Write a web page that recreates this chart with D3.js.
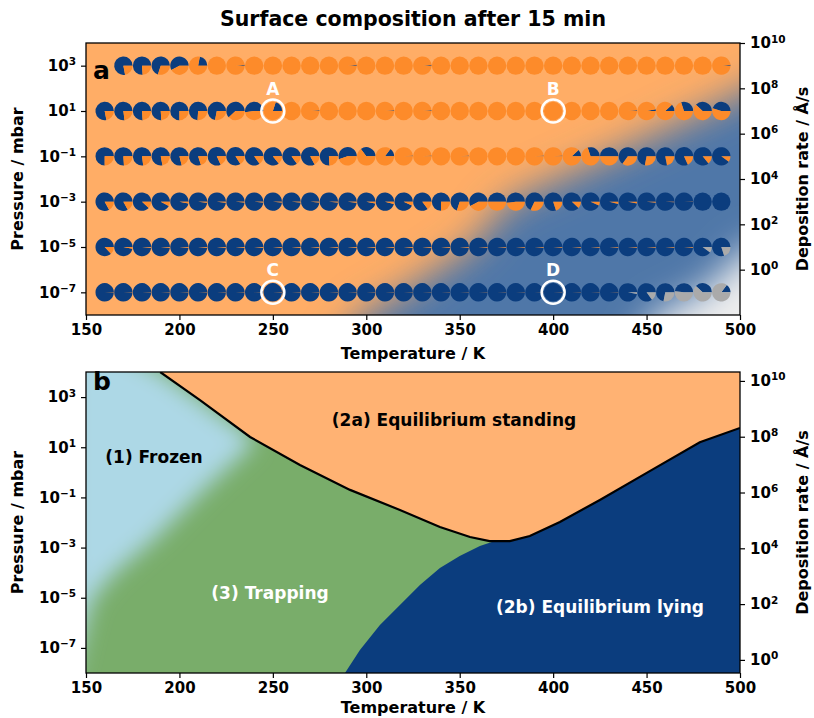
<!DOCTYPE html>
<html>
<head>
<meta charset="utf-8">
<script src="https://cdn.jsdelivr.net/npm/d3@7"></script>
<style>
  body { margin: 0; background: #fff; }
  svg text { font-family: "DejaVu Sans", sans-serif; font-weight: 700; }
</style>
</head>
<body>
<div id="chart"></div>
<script>
// ---- data ----
var temps = [160,170,180,190,200,210,220,230,240,250,260,270,280,290,300,310,320,330,340,350,360,370,380,390,400,410,420,430,440,450,460,470,480,490];
var pressureExps = [3, 1, -1, -3, -5, -7];

// fraction of lying (blue) molecules per row, null = no point
var blue3  = [null,.78,.76,.70,.58,.22,0,.015,0,0,0,0,0,.015,0,0,0,.015,0,0,0,0,0,0,0,0,0,0,0,0,0,0,0,.015];
var blue1  = [.78,.77,.76,.76,.75,.74,.72,.62,.52,.2,0,.015,0,0,0,.015,0,.015,0,0,0,0,0,0,0,0,0,0,.015,.03,.12,.3,.38,.45];
var blueM1 = [.75,.76,.77,.78,.79,.80,.82,.84,.85,.86,.85,.83,.76,.55,.35,.15,.015,.015,0,.015,0,0,0,.015,.015,.12,.3,.5,.65,.72,.78,.82,.86,.9];
var blueM3 = [.83,.83,.88,.92,.97,.98,.98,.985,.985,.985,.985,.985,.985,.98,.97,.96,.93,.85,.75,.7,.58,.5,.52,.68,.8,.88,.93,.96,.97,.98,.99,.995,1,1];
var blueM5 = [.87,.97,.985,.985,.985,.985,.985,.985,.985,.985,.985,.985,.985,.985,.985,.985,.985,.985,.985,.985,.985,.985,.985,.985,.985,.985,.985,.985,.985,.985,.985,.985,.9,.8];
var blueM7 = [.995,.995,.995,.995,.995,.995,.995,.995,.995,.995,.995,.995,.995,.995,.995,.995,.995,.995,.995,.995,.995,.995,.995,.995,.995,.995,.995,.995,.97,.85,.72,.48,.38,.15];
// fraction of empty/other (grey) per row
var greyM5 = [0,0,0,0,0,0,0,0,0,0,0,0,0,0,0,0,0,0,0,0,0,0,0,0,0,0,0,0,0,0,0,0,.1,.2];
var greyM7 = [0,0,0,0,0,0,0,0,0,0,0,0,0,0,0,0,0,0,0,0,0,0,0,0,0,0,0,0,.03,.15,.28,.52,.62,.85];
var noGrey = temps.map(function(){ return 0; });

var blueRows = [blue3, blue1, blueM1, blueM3, blueM5, blueM7];
var greyRows = [noGrey, noGrey, noGrey, noGrey, greyM5, greyM7];

// highlighted points
var markLabels = ["A", "B", "C", "D"];
var markTemps = [250, 400, 250, 400];
var markExps = [1, 1, -7, -7];

// blurred blue background region of panel a (T, log10 p)
var bgBlueT = [298, 320, 356, 376, 430, 494, 520];
var bgBlueP = [-8, -7, -5, -3, -1, 1.5, 2.6];
var bgWhiteT = [455, 480, 505];
var bgWhiteP = [-8, -7, -5];

// phase diagram boundaries, panel b
var standT = [189.7, 211, 237.8, 264.5, 291.3, 318, 339.4, 355.5, 366, 376.8, 387.5, 403.6, 425, 451.7, 478.5, 500];
var standP = [4.0, 2.88, 1.41, 0.29, -0.70, -1.5, -2.18, -2.58, -2.74, -2.74, -2.54, -1.98, -1.1, 0.05, 1.2, 1.77];
var lyingT = [288.6, 296.6, 307.3, 318, 328.7, 339.4, 350, 360.8, 368.8];
var lyingP = [-8, -7.08, -6.09, -5.29, -4.49, -3.81, -3.34, -2.94, -2.74];
var frozenT = [140, 189.7, 211, 240, 239, 213, 186, 164, 153, 148, 140];
var frozenP = [6, 4, 2.88, 1.3, 1.09, -0.7, -2.7, -4.09, -5.09, -6.5, -9];

var xTicks = [150, 200, 250, 300, 350, 400, 450, 500];
var pTicks = [3, 1, -1, -3, -5, -7];
var rTicks = [0, 2, 4, 6, 8, 10];

var cBlue = "#0b3d7e", cOrange = "#fd8b2a", cGrey = "#aaaaaa";
var cBgOrange = "#ffad66", cBgBlue = "#5077a8";

// ---- layout ----
var svgWidth = 814, svgHeight = 718;
var left = 86, right = 740;
var aTop = 43, aBottom = 315;
var bTop = 372, bBottom = 673;

var svg = d3.select("#chart").append("svg")
  .attr("width", svgWidth)
  .attr("height", svgHeight);

var defs = svg.append("defs");
function blurFilter(id, sd) {
  defs.append("filter").attr("id", id).attr("x", "-50%").attr("y", "-50%").attr("width", "200%").attr("height", "200%")
    .append("feGaussianBlur").attr("stdDeviation", sd);
}
blurFilter("blurA", 19);
blurFilter("blurW", 18);
blurFilter("blurB", 11);
defs.append("clipPath").attr("id", "clipA").append("rect")
  .attr("x", left).attr("y", aTop).attr("width", right - left).attr("height", aBottom - aTop);
defs.append("clipPath").attr("id", "clipB").append("rect")
  .attr("x", left).attr("y", bTop).attr("width", right - left).attr("height", bBottom - bTop);

var xScale = d3.scaleLinear().domain([150, 500]).range([left, right]);
var yA = d3.scaleLinear().domain([-8, 4]).range([aBottom, aTop]);
var yAr = d3.scaleLinear().domain([-2, 10]).range([aBottom, aTop]);
var yB = d3.scaleLinear().domain([-8, 4]).range([bBottom, bTop]);
var yBr = d3.scaleLinear().domain([-0.47, 10.32]).range([bBottom, bTop]);

function powLabels(g) {
  g.selectAll(".tick text").each(function(d) {
    var t = d3.select(this);
    t.text(null);
    t.append("tspan").text("10");
    t.append("tspan").attr("dy", "-0.55em").style("font-size", "10.5px")
      .text(d < 0 ? "\u2212" + (-d) : d);
  });
}

function styleAxis(g) {
  g.selectAll("text").style("font-size", "15px").attr("fill", "#000");
  g.selectAll("line").attr("stroke", "#000").attr("stroke-width", 1.2);
  g.select(".domain").remove();
}

function drawAxes(yl, yr, top, bottom) {
  svg.append("g").attr("transform", "translate(0," + bottom + ")")
    .call(d3.axisBottom(xScale).tickValues(xTicks).tickSize(5).tickPadding(4))
    .call(styleAxis);
  svg.append("g").attr("transform", "translate(" + left + ",0)")
    .call(d3.axisLeft(yl).tickValues(pTicks).tickSize(5).tickPadding(5))
    .call(styleAxis).call(powLabels);
  svg.append("g").attr("transform", "translate(" + right + ",0)")
    .call(d3.axisRight(yr).tickValues(rTicks).tickSize(5).tickPadding(5))
    .call(styleAxis).call(powLabels);
  svg.append("rect").attr("x", left).attr("y", top)
    .attr("width", right - left).attr("height", bottom - top)
    .attr("fill", "none").attr("stroke", "#000").attr("stroke-width", 1.3);
}

function zipPts(ts, ps, ys) {
  return ts.map(function(t, i) { return [xScale(t), ys(ps[i])]; });
}

// ---- panel a: background ----
var bgA = svg.append("g").attr("clip-path", "url(#clipA)");
bgA.append("rect").attr("x", left).attr("y", aTop).attr("width", right - left).attr("height", aBottom - aTop)
  .attr("fill", cBgOrange);
var bluePts = zipPts(bgBlueT, bgBlueP, yA);
bluePts.push([xScale(560), yA(2.6)], [xScale(560), yA(-10)], [xScale(280), yA(-10)]);
bgA.append("path").attr("d", d3.line()(bluePts) + "Z")
  .attr("fill", cBgBlue).attr("filter", "url(#blurA)");
var whitePts = zipPts(bgWhiteT, bgWhiteP, yA);
whitePts.push([xScale(540), yA(-4.5)], [xScale(540), yA(-10)], [xScale(440), yA(-10)]);
bgA.append("path").attr("d", d3.line()(whitePts) + "Z")
  .attr("fill", "#eeeeee").attr("filter", "url(#blurW)");

// ---- panel a: pies ----
var rPie = 9.2;
var arc = d3.arc().innerRadius(0).outerRadius(rPie);
pressureExps.forEach(function(e, ri) {
  temps.forEach(function(t, ci) {
    var b = blueRows[ri][ci];
    if (b === null) return;
    var gr = greyRows[ri][ci];
    var o = Math.max(0, 1 - b - gr);
    var parts = [[b, cBlue], [o, cOrange], [gr, cGrey]];
    var g = svg.append("g").attr("transform", "translate(" + xScale(t) + "," + yA(e) + ")");
    var cum = 0;
    parts.forEach(function(p) {
      if (p[0] <= 0) return;
      // counter-clockwise from 3 o'clock
      g.append("path")
        .attr("d", arc({ startAngle: Math.PI / 2 - 2 * Math.PI * (cum + p[0]), endAngle: Math.PI / 2 - 2 * Math.PI * cum }))
        .attr("fill", p[1]);
      cum += p[0];
    });
  });
});

markLabels.forEach(function(m, i) {
  svg.append("circle").attr("cx", xScale(markTemps[i])).attr("cy", yA(markExps[i]))
    .attr("r", 11.5).attr("fill", "none").attr("stroke", "#fff").attr("stroke-width", 2.5);
  svg.append("text").attr("x", xScale(markTemps[i])).attr("y", yA(markExps[i]) - 16)
    .attr("text-anchor", "middle").attr("fill", "#fff").style("font-size", "17px").text(m);
});

drawAxes(yA, yAr, aTop, aBottom);

svg.append("text").attr("x", 93).attr("y", 79).style("font-size", "25px").text("a");
svg.append("text").attr("x", 413).attr("y", 26).attr("text-anchor", "middle")
  .style("font-size", "20.5px").text("Surface composition after 15 min");
svg.append("text").attr("x", 413).attr("y", 359).attr("text-anchor", "middle")
  .style("font-size", "16px").text("Temperature / K");
svg.append("text").attr("transform", "translate(23," + ((aTop + aBottom) / 2) + ") rotate(-90)")
  .attr("text-anchor", "middle").style("font-size", "16px").text("Pressure / mbar");
svg.append("text").attr("transform", "translate(808," + ((aTop + aBottom) / 2) + ") rotate(-90)")
  .attr("text-anchor", "middle").style("font-size", "16px").text("Deposition rate / \u00c5/s");

// ---- panel b: phase diagram ----
var bgB = svg.append("g").attr("clip-path", "url(#clipB)");
bgB.append("rect").attr("x", left).attr("y", bTop).attr("width", right - left).attr("height", bBottom - bTop)
  .attr("fill", "#79ad6a");
bgB.append("path").attr("d", d3.line()(zipPts(frozenT, frozenP, yB)) + "Z")
  .attr("fill", "#add8e6").attr("filter", "url(#blurB)");

var standPts = zipPts(standT, standP, yB);
var standArea = standPts.concat([[xScale(510), yB(standP[standP.length - 1])], [xScale(510), yB(5)], [xScale(185), yB(5)]]);
bgB.append("path").attr("d", d3.line()(standArea) + "Z").attr("fill", "#ffb273");

var lyingPts = zipPts(lyingT, lyingP, yB);
var minIdx = 8;
var lyingArea = lyingPts.concat(standPts.slice(minIdx + 1))
  .concat([[xScale(510), yB(standP[standP.length - 1])], [xScale(510), yB(-9)], [xScale(288.6), yB(-9)]]);
bgB.append("path").attr("d", d3.line()(lyingArea) + "Z").attr("fill", cBlue);
bgB.append("path").attr("d", d3.line()(standPts)).attr("fill", "none")
  .attr("stroke", "#000").attr("stroke-width", 2.2);

drawAxes(yB, yBr, bTop, bBottom);

svg.append("text").attr("x", 93).attr("y", 390).style("font-size", "25px").text("b");
svg.append("text").attr("x", 454).attr("y", 426).attr("text-anchor", "middle")
  .style("font-size", "17px").text("(2a) Equilibrium standing");
svg.append("text").attr("x", 154).attr("y", 463).attr("text-anchor", "middle")
  .style("font-size", "17px").text("(1) Frozen");
svg.append("text").attr("x", 270).attr("y", 599).attr("text-anchor", "middle")
  .attr("fill", "#fff").style("font-size", "17px").text("(3) Trapping");
svg.append("text").attr("x", 600).attr("y", 613).attr("text-anchor", "middle")
  .attr("fill", "#fff").style("font-size", "17px").text("(2b) Equilibrium lying");

svg.append("text").attr("x", 413).attr("y", 713).attr("text-anchor", "middle")
  .style("font-size", "16px").text("Temperature / K");
svg.append("text").attr("transform", "translate(23," + ((bTop + bBottom) / 2) + ") rotate(-90)")
  .attr("text-anchor", "middle").style("font-size", "16px").text("Pressure / mbar");
svg.append("text").attr("transform", "translate(808," + ((bTop + bBottom) / 2) + ") rotate(-90)")
  .attr("text-anchor", "middle").style("font-size", "16px").text("Deposition rate / \u00c5/s");
</script>
</body>
</html>
